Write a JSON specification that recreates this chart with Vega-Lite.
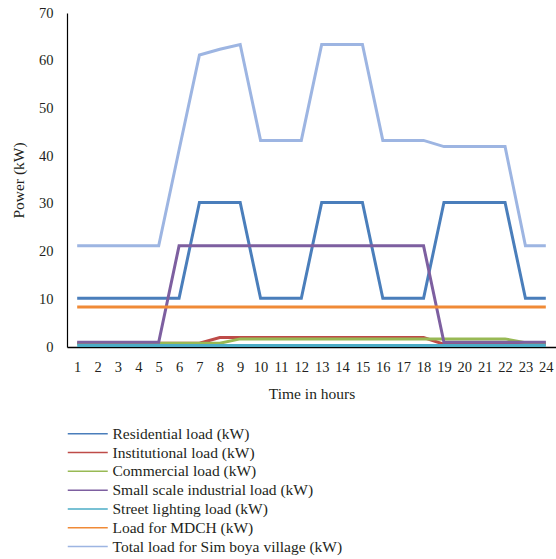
{
  "$schema": "https://vega.github.io/schema/vega-lite/v6.json",
  "autosize": "none",
  "width": 489,
  "height": 334,
  "padding": {"left": 67, "top": 13, "right": 0, "bottom": 212},
  "background": "white",
  "config": {
    "font": "Liberation Serif",
    "view": {"stroke": null},
    "axis": {"grid": false, "ticks": false, "domainColor": "#000000", "domainWidth": 1.2, "labelColor": "#231F20", "titleColor": "#231F20", "labelFont": "Liberation Serif", "titleFont": "Liberation Serif", "titleFontWeight": "normal", "labelFontSize": 14.5, "titleFontSize": 15.5},
    "legend": {"labelFont": "Liberation Serif", "labelFontSize": 15.5, "labelColor": "#231F20"}
  },
  "data": {
    "values": [
      {"hour": 1, "series": "Residential load (kW)", "power": 10.2},
      {"hour": 2, "series": "Residential load (kW)", "power": 10.2},
      {"hour": 3, "series": "Residential load (kW)", "power": 10.2},
      {"hour": 4, "series": "Residential load (kW)", "power": 10.2},
      {"hour": 5, "series": "Residential load (kW)", "power": 10.2},
      {"hour": 6, "series": "Residential load (kW)", "power": 10.2},
      {"hour": 7, "series": "Residential load (kW)", "power": 30.3},
      {"hour": 8, "series": "Residential load (kW)", "power": 30.3},
      {"hour": 9, "series": "Residential load (kW)", "power": 30.3},
      {"hour": 10, "series": "Residential load (kW)", "power": 10.2},
      {"hour": 11, "series": "Residential load (kW)", "power": 10.2},
      {"hour": 12, "series": "Residential load (kW)", "power": 10.2},
      {"hour": 13, "series": "Residential load (kW)", "power": 30.3},
      {"hour": 14, "series": "Residential load (kW)", "power": 30.3},
      {"hour": 15, "series": "Residential load (kW)", "power": 30.3},
      {"hour": 16, "series": "Residential load (kW)", "power": 10.2},
      {"hour": 17, "series": "Residential load (kW)", "power": 10.2},
      {"hour": 18, "series": "Residential load (kW)", "power": 10.2},
      {"hour": 19, "series": "Residential load (kW)", "power": 30.3},
      {"hour": 20, "series": "Residential load (kW)", "power": 30.3},
      {"hour": 21, "series": "Residential load (kW)", "power": 30.3},
      {"hour": 22, "series": "Residential load (kW)", "power": 30.3},
      {"hour": 23, "series": "Residential load (kW)", "power": 10.2},
      {"hour": 24, "series": "Residential load (kW)", "power": 10.2},

      {"hour": 1, "series": "Institutional load (kW)", "power": 0.8},
      {"hour": 2, "series": "Institutional load (kW)", "power": 0.8},
      {"hour": 3, "series": "Institutional load (kW)", "power": 0.8},
      {"hour": 4, "series": "Institutional load (kW)", "power": 0.8},
      {"hour": 5, "series": "Institutional load (kW)", "power": 0.8},
      {"hour": 6, "series": "Institutional load (kW)", "power": 0.8},
      {"hour": 7, "series": "Institutional load (kW)", "power": 0.8},
      {"hour": 8, "series": "Institutional load (kW)", "power": 2.0},
      {"hour": 9, "series": "Institutional load (kW)", "power": 2.0},
      {"hour": 10, "series": "Institutional load (kW)", "power": 2.0},
      {"hour": 11, "series": "Institutional load (kW)", "power": 2.0},
      {"hour": 12, "series": "Institutional load (kW)", "power": 2.0},
      {"hour": 13, "series": "Institutional load (kW)", "power": 2.0},
      {"hour": 14, "series": "Institutional load (kW)", "power": 2.0},
      {"hour": 15, "series": "Institutional load (kW)", "power": 2.0},
      {"hour": 16, "series": "Institutional load (kW)", "power": 2.0},
      {"hour": 17, "series": "Institutional load (kW)", "power": 2.0},
      {"hour": 18, "series": "Institutional load (kW)", "power": 2.0},
      {"hour": 19, "series": "Institutional load (kW)", "power": 0.6},
      {"hour": 20, "series": "Institutional load (kW)", "power": 0.6},
      {"hour": 21, "series": "Institutional load (kW)", "power": 0.6},
      {"hour": 22, "series": "Institutional load (kW)", "power": 0.6},
      {"hour": 23, "series": "Institutional load (kW)", "power": 0.6},
      {"hour": 24, "series": "Institutional load (kW)", "power": 0.6},

      {"hour": 1, "series": "Commercial load (kW)", "power": 0.8},
      {"hour": 2, "series": "Commercial load (kW)", "power": 0.8},
      {"hour": 3, "series": "Commercial load (kW)", "power": 0.8},
      {"hour": 4, "series": "Commercial load (kW)", "power": 0.8},
      {"hour": 5, "series": "Commercial load (kW)", "power": 0.8},
      {"hour": 6, "series": "Commercial load (kW)", "power": 0.8},
      {"hour": 7, "series": "Commercial load (kW)", "power": 0.8},
      {"hour": 8, "series": "Commercial load (kW)", "power": 0.8},
      {"hour": 9, "series": "Commercial load (kW)", "power": 1.7},
      {"hour": 10, "series": "Commercial load (kW)", "power": 1.7},
      {"hour": 11, "series": "Commercial load (kW)", "power": 1.7},
      {"hour": 12, "series": "Commercial load (kW)", "power": 1.7},
      {"hour": 13, "series": "Commercial load (kW)", "power": 1.7},
      {"hour": 14, "series": "Commercial load (kW)", "power": 1.7},
      {"hour": 15, "series": "Commercial load (kW)", "power": 1.7},
      {"hour": 16, "series": "Commercial load (kW)", "power": 1.7},
      {"hour": 17, "series": "Commercial load (kW)", "power": 1.7},
      {"hour": 18, "series": "Commercial load (kW)", "power": 1.7},
      {"hour": 19, "series": "Commercial load (kW)", "power": 1.7},
      {"hour": 20, "series": "Commercial load (kW)", "power": 1.7},
      {"hour": 21, "series": "Commercial load (kW)", "power": 1.7},
      {"hour": 22, "series": "Commercial load (kW)", "power": 1.7},
      {"hour": 23, "series": "Commercial load (kW)", "power": 0.9},
      {"hour": 24, "series": "Commercial load (kW)", "power": 0.9},

      {"hour": 1, "series": "Small scale industrial load (kW)", "power": 1.0},
      {"hour": 2, "series": "Small scale industrial load (kW)", "power": 1.0},
      {"hour": 3, "series": "Small scale industrial load (kW)", "power": 1.0},
      {"hour": 4, "series": "Small scale industrial load (kW)", "power": 1.0},
      {"hour": 5, "series": "Small scale industrial load (kW)", "power": 1.0},
      {"hour": 6, "series": "Small scale industrial load (kW)", "power": 21.2},
      {"hour": 7, "series": "Small scale industrial load (kW)", "power": 21.2},
      {"hour": 8, "series": "Small scale industrial load (kW)", "power": 21.2},
      {"hour": 9, "series": "Small scale industrial load (kW)", "power": 21.2},
      {"hour": 10, "series": "Small scale industrial load (kW)", "power": 21.2},
      {"hour": 11, "series": "Small scale industrial load (kW)", "power": 21.2},
      {"hour": 12, "series": "Small scale industrial load (kW)", "power": 21.2},
      {"hour": 13, "series": "Small scale industrial load (kW)", "power": 21.2},
      {"hour": 14, "series": "Small scale industrial load (kW)", "power": 21.2},
      {"hour": 15, "series": "Small scale industrial load (kW)", "power": 21.2},
      {"hour": 16, "series": "Small scale industrial load (kW)", "power": 21.2},
      {"hour": 17, "series": "Small scale industrial load (kW)", "power": 21.2},
      {"hour": 18, "series": "Small scale industrial load (kW)", "power": 21.2},
      {"hour": 19, "series": "Small scale industrial load (kW)", "power": 1.0},
      {"hour": 20, "series": "Small scale industrial load (kW)", "power": 1.0},
      {"hour": 21, "series": "Small scale industrial load (kW)", "power": 1.0},
      {"hour": 22, "series": "Small scale industrial load (kW)", "power": 1.0},
      {"hour": 23, "series": "Small scale industrial load (kW)", "power": 1.0},
      {"hour": 24, "series": "Small scale industrial load (kW)", "power": 1.0},

      {"hour": 1, "series": "Street lighting load (kW)", "power": 0.3},
      {"hour": 2, "series": "Street lighting load (kW)", "power": 0.3},
      {"hour": 3, "series": "Street lighting load (kW)", "power": 0.3},
      {"hour": 4, "series": "Street lighting load (kW)", "power": 0.3},
      {"hour": 5, "series": "Street lighting load (kW)", "power": 0.3},
      {"hour": 6, "series": "Street lighting load (kW)", "power": 0.3},
      {"hour": 7, "series": "Street lighting load (kW)", "power": 0.3},
      {"hour": 8, "series": "Street lighting load (kW)", "power": 0.3},
      {"hour": 9, "series": "Street lighting load (kW)", "power": 0.3},
      {"hour": 10, "series": "Street lighting load (kW)", "power": 0.3},
      {"hour": 11, "series": "Street lighting load (kW)", "power": 0.3},
      {"hour": 12, "series": "Street lighting load (kW)", "power": 0.3},
      {"hour": 13, "series": "Street lighting load (kW)", "power": 0.3},
      {"hour": 14, "series": "Street lighting load (kW)", "power": 0.3},
      {"hour": 15, "series": "Street lighting load (kW)", "power": 0.3},
      {"hour": 16, "series": "Street lighting load (kW)", "power": 0.3},
      {"hour": 17, "series": "Street lighting load (kW)", "power": 0.3},
      {"hour": 18, "series": "Street lighting load (kW)", "power": 0.3},
      {"hour": 19, "series": "Street lighting load (kW)", "power": 0.3},
      {"hour": 20, "series": "Street lighting load (kW)", "power": 0.3},
      {"hour": 21, "series": "Street lighting load (kW)", "power": 0.3},
      {"hour": 22, "series": "Street lighting load (kW)", "power": 0.3},
      {"hour": 23, "series": "Street lighting load (kW)", "power": 0.3},
      {"hour": 24, "series": "Street lighting load (kW)", "power": 0.3},

      {"hour": 1, "series": "Load for MDCH (kW)", "power": 8.4},
      {"hour": 2, "series": "Load for MDCH (kW)", "power": 8.4},
      {"hour": 3, "series": "Load for MDCH (kW)", "power": 8.4},
      {"hour": 4, "series": "Load for MDCH (kW)", "power": 8.4},
      {"hour": 5, "series": "Load for MDCH (kW)", "power": 8.4},
      {"hour": 6, "series": "Load for MDCH (kW)", "power": 8.4},
      {"hour": 7, "series": "Load for MDCH (kW)", "power": 8.4},
      {"hour": 8, "series": "Load for MDCH (kW)", "power": 8.4},
      {"hour": 9, "series": "Load for MDCH (kW)", "power": 8.4},
      {"hour": 10, "series": "Load for MDCH (kW)", "power": 8.4},
      {"hour": 11, "series": "Load for MDCH (kW)", "power": 8.4},
      {"hour": 12, "series": "Load for MDCH (kW)", "power": 8.4},
      {"hour": 13, "series": "Load for MDCH (kW)", "power": 8.4},
      {"hour": 14, "series": "Load for MDCH (kW)", "power": 8.4},
      {"hour": 15, "series": "Load for MDCH (kW)", "power": 8.4},
      {"hour": 16, "series": "Load for MDCH (kW)", "power": 8.4},
      {"hour": 17, "series": "Load for MDCH (kW)", "power": 8.4},
      {"hour": 18, "series": "Load for MDCH (kW)", "power": 8.4},
      {"hour": 19, "series": "Load for MDCH (kW)", "power": 8.4},
      {"hour": 20, "series": "Load for MDCH (kW)", "power": 8.4},
      {"hour": 21, "series": "Load for MDCH (kW)", "power": 8.4},
      {"hour": 22, "series": "Load for MDCH (kW)", "power": 8.4},
      {"hour": 23, "series": "Load for MDCH (kW)", "power": 8.4},
      {"hour": 24, "series": "Load for MDCH (kW)", "power": 8.4},

      {"hour": 1, "series": "Total load for Sim boya village (kW)", "power": 21.2},
      {"hour": 2, "series": "Total load for Sim boya village (kW)", "power": 21.2},
      {"hour": 3, "series": "Total load for Sim boya village (kW)", "power": 21.2},
      {"hour": 4, "series": "Total load for Sim boya village (kW)", "power": 21.2},
      {"hour": 5, "series": "Total load for Sim boya village (kW)", "power": 21.2},
      {"hour": 6, "series": "Total load for Sim boya village (kW)", "power": 41.3},
      {"hour": 7, "series": "Total load for Sim boya village (kW)", "power": 61.2},
      {"hour": 8, "series": "Total load for Sim boya village (kW)", "power": 62.4},
      {"hour": 9, "series": "Total load for Sim boya village (kW)", "power": 63.4},
      {"hour": 10, "series": "Total load for Sim boya village (kW)", "power": 43.3},
      {"hour": 11, "series": "Total load for Sim boya village (kW)", "power": 43.3},
      {"hour": 12, "series": "Total load for Sim boya village (kW)", "power": 43.3},
      {"hour": 13, "series": "Total load for Sim boya village (kW)", "power": 63.4},
      {"hour": 14, "series": "Total load for Sim boya village (kW)", "power": 63.4},
      {"hour": 15, "series": "Total load for Sim boya village (kW)", "power": 63.4},
      {"hour": 16, "series": "Total load for Sim boya village (kW)", "power": 43.3},
      {"hour": 17, "series": "Total load for Sim boya village (kW)", "power": 43.3},
      {"hour": 18, "series": "Total load for Sim boya village (kW)", "power": 43.3},
      {"hour": 19, "series": "Total load for Sim boya village (kW)", "power": 42.0},
      {"hour": 20, "series": "Total load for Sim boya village (kW)", "power": 42.0},
      {"hour": 21, "series": "Total load for Sim boya village (kW)", "power": 42.0},
      {"hour": 22, "series": "Total load for Sim boya village (kW)", "power": 42.0},
      {"hour": 23, "series": "Total load for Sim boya village (kW)", "power": 21.2},
      {"hour": 24, "series": "Total load for Sim boya village (kW)", "power": 21.2}
    ]
  },
  "mark": {"type": "line", "strokeWidth": 3, "strokeJoin": "miter"},
  "encoding": {
    "x": {
      "field": "hour", "type": "ordinal",
      "scale": {"type": "point", "padding": 0.5},
      "axis": {"title": "Time in hours", "labelAngle": 0, "labelPadding": 13, "titlePadding": 13, "domainWidth": 1.5}
    },
    "y": {
      "field": "power", "type": "quantitative",
      "scale": {"domain": [0, 70], "nice": false},
      "axis": {"title": "Power (kW)", "values": [0, 10, 20, 30, 40, 50, 60, 70], "labelPadding": 14, "titlePadding": 12}
    },
    "color": {
      "field": "series", "type": "nominal",
      "sort": ["Residential load (kW)", "Institutional load (kW)", "Commercial load (kW)", "Small scale industrial load (kW)", "Street lighting load (kW)", "Load for MDCH (kW)", "Total load for Sim boya village (kW)"],
      "scale": {
        "domain": ["Residential load (kW)", "Institutional load (kW)", "Commercial load (kW)", "Small scale industrial load (kW)", "Street lighting load (kW)", "Load for MDCH (kW)", "Total load for Sim boya village (kW)"],
        "range": ["#4A7EBB", "#BE4B48", "#98B954", "#7D5FA0", "#4BACC6", "#F08A36", "#9DB5E2"]
      },
      "legend": {
        "title": null, "orient": "none", "legendX": 13, "legendY": 413,
        "symbolType": "M-5,0H5", "symbolSize": 64, "symbolStrokeWidth": 1.5,
        "labelOffset": 17, "rowPadding": 1.8, "padding": 0, "labelLimit": 400
      }
    }
  }
}
